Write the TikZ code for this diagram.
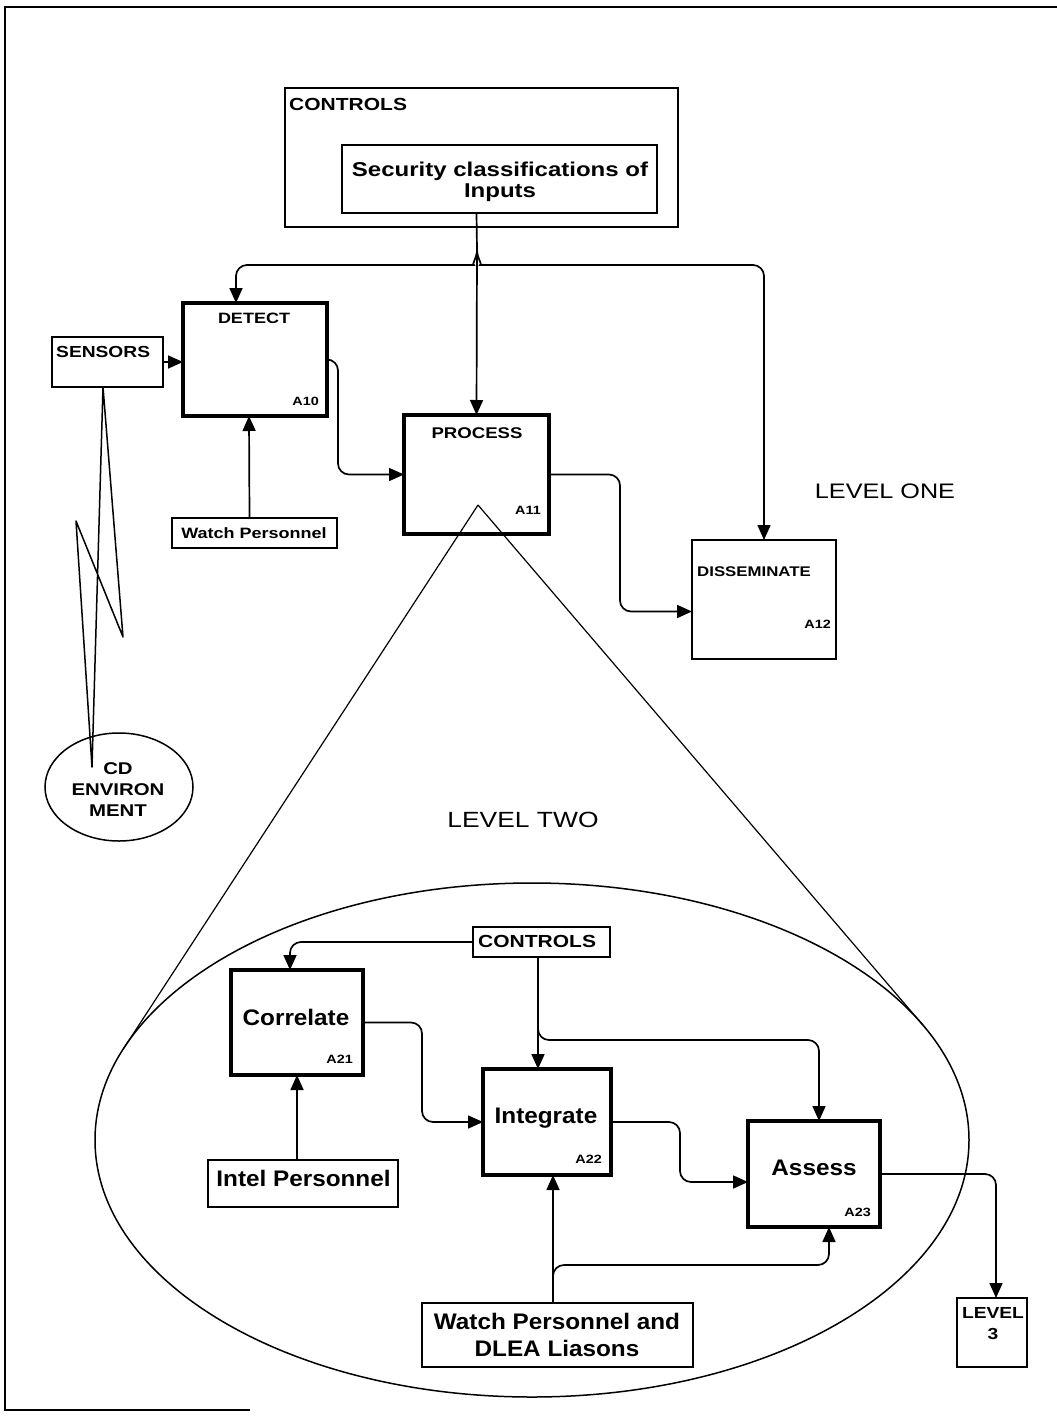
\documentclass[tikz,border=0pt]{standalone}
\usepackage{fontspec}
\setmainfont{Liberation Sans}
\newfontfamily\widesf{Liberation Sans}[FakeStretch=1.2]
\newfontfamily\midsf{Liberation Sans}[FakeStretch=1.08]
\usetikzlibrary{arrows.meta,shapes.geometric,calc}
\begin{document}
\begin{tikzpicture}[x=1pt,y=-1pt,
  conn/.style={line width=1.7pt, rounded corners=11pt},
  arr/.style={conn, -{Triangle[length=15pt,width=13pt]}},
  thinbox/.style={draw, line width=1.7pt, anchor=north west, inner sep=0pt, outer sep=0pt},
  actbox/.style={thinbox, line width=3.6pt},
  wb/.style={inner sep=0pt, font=\widesf\bfseries\fontsize{#1}{#1}\selectfont},
  mb/.style={inner sep=0pt, font=\midsf\bfseries\fontsize{#1}{#1}\selectfont},
  lvl/.style={inner sep=0pt, font=\widesf\fontsize{#1}{#1}\selectfont},
  cone/.style={line width=1.2pt}
]
\useasboundingbox (0,0) rectangle (1057,1416);

% page frame
\draw[line width=2.6pt] (1057,7) -- (5,7) -- (5,1410) -- (250,1410);

% ---------- level one ----------
\node[thinbox, minimum width=393pt, minimum height=139pt] (ctrlA) at (285,88) {};
\node[wb=17.5, anchor=base west] (ctrlAt) at (289,110) {CONTROLS};
\node[thinbox, minimum width=315pt, minimum height=68pt] (sec) at (342,145) {};
\node[inner sep=0pt, align=center, font=\widesf\bfseries\fontsize{20}{21}\selectfont] (sect) at (500,182) {Security classifications of\\Inputs};

\node[thinbox, minimum width=111pt, minimum height=50pt] (sensors) at (52,337) {};
\node[wb=16, anchor=base west] (sensorst) at (56,357) {SENSORS};

\node[actbox, minimum width=144pt, minimum height=113pt] (detect) at (183,303) {};
\node[wb=15, anchor=base] (detectt) at (254,323) {DETECT};
\node[wb=12, anchor=base east] (detectid) at (319,405) {A10};

\node[thinbox, minimum width=165pt, minimum height=30pt] (watch) at (172,518) {};
\node[wb=15, anchor=base] (watcht) at (254,538) {Watch Personnel};

\node[actbox, minimum width=145pt, minimum height=119pt] (process) at (404,415) {};
\node[wb=15.5, anchor=base] (processt) at (477,438) {PROCESS};
\node[wb=12, anchor=base east] (processid) at (541,514) {A11};

\node[thinbox, minimum width=144pt, minimum height=119pt] (dissem) at (692,540) {};
\node[wb=14, anchor=base west] (dissemt) at (697,576) {DISSEMINATE};
\node[wb=12, anchor=base east] (dissemid) at (831,628) {A12};

\node[lvl=21, anchor=base] (lvlone) at (885,498) {LEVEL ONE};

% environment and the link to the sensors
\node[draw, ellipse, line width=1.5pt, minimum width=148pt, minimum height=108pt, inner sep=0pt] (cd) at (119,787) {};
\node[inner sep=0pt, align=center, font=\widesf\bfseries\fontsize{17}{21}\selectfont] (cdt) at (118,790) {CD\\ENVIRON\\MENT};
\coordinate (boltA) at ($(sensors.south)+(-4.5,0)$);
\coordinate (boltB) at (123,637);
\coordinate (boltC) at (76,521);
\coordinate (boltD) at (92,767);
\draw[line width=1.5pt, line join=round] (boltA) -- (boltB) -- (boltC) -- (boltD) -- cycle;

% level one connectors
\coordinate (br) at (477,250);
\draw[conn] (process.north |- sec.south) -- (br);
\draw[arr] (br) -- (process.north);
\draw[arr] (br) to[out=-90,in=0] (463,265) -| ($(detect.north)+(-19,0)$);
\draw[arr] (br) to[out=-90,in=180] (491,265) -| (dissem.north);
\draw[arr] (sensors.east) -- (sensors.east -| detect.west);
\draw[arr] ($(watch.north)+(-5,0)$) -- ($(detect.south)+(-6,0)$);
\draw[arr] (detect.east) -- ++(11,0) |- (process.west);
\draw[arr] (process.east) -- ++(71,0) |- ($(dissem.west)+(0,12)$);

% ---------- level two ----------
\node[lvl=22, anchor=base] (lvltwo) at (523,827) {LEVEL TWO};
\node[draw, ellipse, line width=1.5pt, minimum width=874pt, minimum height=514pt, inner sep=0pt] (zoomell) at (532,1140) {};
\coordinate (apex) at (478,505);
\coordinate (tanL) at (123.7,1048.4);
\coordinate (tanR) at (922.8,1025);
\draw[cone] (apex) -- (tanL);
\draw[cone] (apex) -- (tanR);

\node[thinbox, minimum width=137pt, minimum height=30pt] (ctrlB) at (473,927) {};
\node[wb=17.5, anchor=base west] (ctrlBt) at (478,947) {CONTROLS};

\node[actbox, minimum width=132pt, minimum height=105pt] (corr) at (231,970) {};
\node[mb=22.5, anchor=base] (corrt) at (296,1025) {Correlate};
\node[wb=12, anchor=base east] (corrid) at (353,1063) {A21};

\node[thinbox, minimum width=190pt, minimum height=47pt] (intel) at (208,1160) {};
\node[mb=22.5, anchor=base] (intelt) at (303.5,1186) {Intel Personnel};

\node[actbox, minimum width=128pt, minimum height=106pt] (integ) at (483,1069) {};
\node[mb=22.5, anchor=base] (integt) at (546,1123) {Integrate};
\node[wb=12, anchor=base east] (integid) at (602,1163) {A22};

\node[actbox, minimum width=132pt, minimum height=106pt] (assess) at (748,1121) {};
\node[mb=22.5, anchor=base] (assesst) at (814,1175) {Assess};
\node[wb=12, anchor=base east] (assessid) at (871,1216) {A23};

\node[thinbox, minimum width=271pt, minimum height=64pt] (watchB) at (422,1303) {};
\node[inner sep=0pt, align=center, font=\midsf\bfseries\fontsize{22.5}{27}\selectfont] (watchBt) at (557,1335) {Watch Personnel and\\DLEA Liasons};

\node[thinbox, minimum width=70pt, minimum height=69pt] (lvl3) at (957,1298) {};
\node[inner sep=0pt, align=center, font=\widesf\bfseries\fontsize{16}{21}\selectfont] (lvl3t) at (993,1324) {LEVEL\\3};

% level two connectors
\coordinate (cB) at (538,957);
\draw[arr] (ctrlB.west) -| ($(corr.north)+(-7,0)$);
\draw[arr] (cB) -- (cB |- integ.north);
\draw[arr] (cB |- 0,1015) -- (cB |- 0,1040) -| ($(assess.north)+(5,0)$);
\draw[arr] (corr.east) -- ++(59,0) |- (integ.west);
\draw[arr] (corr.south |- intel.north) -- (corr.south);
\draw[arr] (integ.east) -- ++(69,0) |- ($(assess.west)+(0,8)$);
\coordinate (wB) at ($(watchB.north)+(-4.5,0)$);
\draw[arr] (wB) -- (wB |- integ.south);
\draw[arr] (wB |- 0,1292) -- (wB |- 0,1265) -| ($(assess.south)+(15,0)$);
\draw[arr] (assess.east) -| ($(lvl3.north)+(4,0)$);
\end{tikzpicture}
\end{document}
